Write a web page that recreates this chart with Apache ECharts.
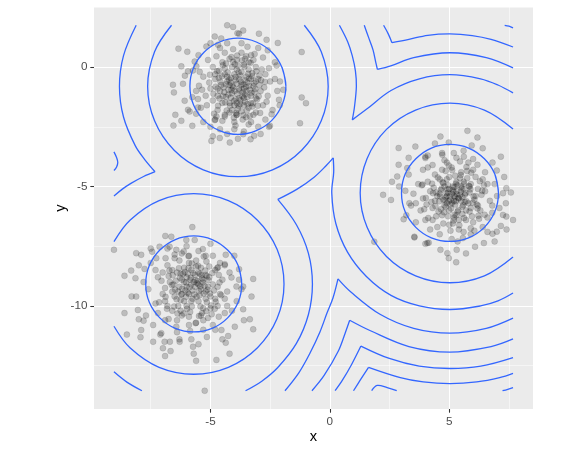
<!DOCTYPE html>
<html>
<head>
<meta charset="utf-8">
<script src="https://cdn.jsdelivr.net/npm/echarts@6/dist/echarts.min.js"></script>
<style>
  html, body { margin: 0; padding: 0; background: #fff; }
  #chart { width: 585px; height: 451px; }
</style>
</head>
<body>
<div id="chart"></div>
<script>
// axis ticks
const xTicks = [-5, 0, 5];
const yTicks = [-10, -5, 0];

// points (x, y)
const clusterA = [
  [-6.34,0.77],[-5.97,0.64],[-6.22,0.03],[-6.07,-0.36],[-6.15,-0.70],[-6.57,-0.74],[-6.53,-1.06],[-6.08,-1.41],[-5.94,-1.79],[-5.87,-1.86],
  [-6.47,-2.00],[-6.22,-2.25],[-6.55,-2.45],[-5.76,-2.46],[-5.94,-0.18],[-5.73,-0.14],[-5.59,0.03],[-5.76,-1.26],[-5.52,-1.34],[-5.52,-1.69],
  [-5.48,-0.78],[-5.66,0.23],[-4.30,1.75],[-4.05,1.68],[-3.63,1.53],[-3.87,1.42],[-4.82,1.28],[-2.97,1.40],[-2.65,1.14],[-2.18,1.01],
  [-1.18,0.63],[-4.68,0.93],[-5.17,0.86],[-2.23,0.07],[-2.09,-0.60],[-1.95,-0.95],[-2.13,-1.37],[-1.18,-1.27],[-1.00,-1.51],[-1.25,-2.35],
  [-2.44,-1.97],[-2.51,-2.46],[-3.17,-2.88],[-3.32,-3.02],[-3.63,-2.81],[-4.19,-3.16],[-4.61,-2.97],[-4.96,-3.09],[-4.75,-2.07],[-4.40,-2.07],
  [-3.91,-2.00],
  [-3.9,-0.7],[-3.6,-0.9],[-4.1,-1.1],[-3.5,-0.4],[-4.3,-0.6],[-3.8,-1.3],[-3.2,-0.8],[-4.6,-1.0],[-3.7,-0.2],[-4.0,-1.6],
  [-3.3,-1.2],[-4.4,-0.3],[-3.0,-0.5],[-4.8,-0.5],[-3.6,0.1],[-4.2,-1.9],[-3.4,-1.7],[-4.9,-1.4],[-2.9,-1.0],[-3.9,0.3],
  [-4.5,0.2],[-3.1,0.0],[-4.7,-1.8],[-3.5,-2.1],[-2.7,-0.3],[-5.0,-0.9],[-4.0,-2.3],[-2.8,-1.6],[-3.3,0.5],[-4.4,0.6],
  [-3.8,-0.5],[-4.05,-0.85],[-3.65,-1.05],[-3.95,-1.35],[-4.25,-0.95],[-3.45,-0.65],[-3.75,-0.35],[-4.15,-0.45],[-3.55,-1.45],[-4.35,-1.25],
  [-3.85,-1.75],[-3.25,-0.25],[-4.55,-0.75],[-3.05,-1.35],[-4.65,-0.15],[-2.95,-0.75],[-5.2,-1.2],[-3.7,0.6],[-4.1,0.0],[-3.4,0.2],
  [-2.6,-1.2],[-5.3,-0.4],[-4.0,-2.6],[-3.2,-2.0],[-4.8,-2.2],[-2.5,-0.6],[-5.1,0.3],[-3.0,0.8],[-4.3,1.0],[-3.6,-2.7],
  [-2.4,-1.8],[-5.4,-1.7],[-4.6,-2.6],[-2.8,0.4],[-3.9,-0.1],[-4.2,-1.5],[-3.3,-1.5],[-4.7,-1.2],[-3.1,-1.9],[-4.4,-2.0],
  [-3.5,-1.0],[-3.8,-0.9],[-4.0,-0.3],[-3.6,-1.6],[-4.5,-1.5],[-3.2,0.3],[-4.9,0.0],[-2.7,-2.2],[-3.0,-2.5],[-5.0,-2.5],
  [-2.3,0.2],[-5.5,0.5],[-3.7,1.0],[-4.6,0.8],[-2.2,-1.0],[-5.6,-1.0],[-3.4,-2.4],[-4.3,-2.8],[-2.9,-2.8],[-5.3,-2.3],
  [-4.15,-0.65],[-3.35,-0.95],[-3.7,-1.85],[-4.4,-0.05],[-2.85,-0.1],[-4.8,-0.3],[-3.9,-2.0],[-3.1,-0.6],[-4.2,0.35],[-3.5,0.45],
  [-3.55,-0.55],[-4.25,-1.15],[-3.95,-0.55],[-3.45,-1.25],[-4.45,-0.85],[-3.75,-1.55],[-3.15,-1.05],[-4.65,-0.45],[-3.85,0.05],[-4.1,-1.8],
  [-3.25,-1.65],[-4.35,0.15],[-2.95,-0.35],[-5.05,-0.65],[-3.55,0.35],[-4.5,-2.25],[-3.65,-2.2],[-5.15,-1.6],[-2.75,-0.85],[-4.05,0.75],
  [-4.75,0.45],[-3.15,0.55],[-4.85,-1.95],[-3.3,-2.3],[-2.55,-0.05],[-5.35,-0.95],[-3.95,-2.45],[-2.65,-1.45],[-3.45,0.85],[-4.55,1.2],
  [-3.7,-0.75],[-4.0,-1.0],[-3.6,-1.3],[-4.3,-0.4],[-3.3,-0.5],[-4.2,-0.75],[-3.9,-1.5],[-3.4,-0.1],[-4.7,-0.9],[-3.1,-1.3],
  [-2.3,-0.5],[-5.45,-0.2],[-3.8,1.4],[-2.6,0.7],[-5.0,1.0],[-4.9,-2.9],[-2.55,-2.5],[-3.85,-3.0],[-5.6,-1.95],[-2.1,-1.6],
  [-3.72,-0.62],[-4.08,-0.78],[-3.88,-1.12],[-3.52,-0.82],[-4.22,-0.52],[-3.66,-1.22],[-4.02,-1.42],[-3.38,-0.48],[-4.42,-1.05],[-3.82,-0.22],
  [-4.18,-1.62],[-3.28,-1.08],[-4.58,-0.62],[-3.58,0.02],[-3.98,0.12],[-4.62,-1.32],[-3.18,-0.68],[-3.48,-1.82],[-4.32,-1.82],[-4.78,-0.82],
  [-3.08,-0.18],[-3.92,-1.92],[-4.48,0.08],[-3.32,0.18],[-2.98,-1.22],[-4.88,-1.12],[-3.62,-2.02],[-4.12,0.42],[-3.22,-1.52],[-4.68,-1.62],
  [-3.78,-0.98],[-3.42,-0.28],[-4.28,-0.22],[-4.38,-1.48],[-3.12,-0.92],[-3.68,0.28],[-4.52,-0.38],[-3.02,-1.62],[-4.02,-2.12],[-3.35,-2.05],
  [-3.95,-0.42],[-3.55,-1.15],[-4.15,-1.28],[-3.75,-1.38],[-4.35,-0.72],[-3.25,-0.38],[-4.05,0.22],[-3.45,-1.55],[-4.72,-0.18],[-2.88,-0.55],
  [-3.62,-0.72],[-4.12,-0.95],[-3.82,-1.62],[-3.38,-0.78],[-4.48,-1.22],[-3.88,0.48],[-2.92,-1.92],[-4.82,-2.22],[-5.02,-0.32],[-2.72,-0.62]
];

const clusterB = [
  [-9.04,-7.65],[-8.11,-7.79],[-7.90,-7.86],[-6.89,-7.07],[-6.64,-7.10],[-5.76,-6.70],[-7.44,-7.73],[-7.13,-7.52],[-6.71,-7.52],[-6.43,-7.65],
  [-6.01,-7.24],[-5.66,-7.24],[-8.32,-8.52],[-8.60,-8.74],[-8.14,-8.84],[-7.76,-8.45],[-8.11,-9.61],[-7.27,-8.00],[-6.88,-8.00],[-8.04,-10.17],
  [-8.00,-10.56],[-7.80,-10.62],[-7.90,-11.01],[-7.93,-11.31],[-6.92,-11.50],[-6.99,-11.77],[-6.67,-11.89],[-6.29,-11.50],[-5.73,-11.71],[-7.06,-11.14],
  [-6.43,-10.87],[-4.36,-7.86],[-4.68,-8.38],[-4.40,-8.25],[-3.80,-8.46],[-4.12,-8.81],[-3.91,-9.19],[-3.63,-9.19],[-3.21,-8.87],[-3.28,-9.61],
  [-5.17,-8.14],[-5.28,-7.93],[-3.63,-10.14],[-3.35,-10.56],[-3.21,-10.98],[-3.98,-10.87],[-4.26,-11.26],[-4.36,-11.54],[-4.75,-12.26],[-5.24,-13.55],
  [-4.54,-11.01],
  [-5.7,-9.0],[-5.4,-9.3],[-6.0,-8.8],[-5.9,-9.5],[-5.2,-8.7],[-6.3,-9.2],[-5.5,-9.8],[-6.1,-8.4],[-4.9,-9.1],[-5.8,-8.5],
  [-6.5,-9.6],[-5.0,-9.6],[-6.4,-8.6],[-5.3,-10.1],[-6.0,-10.0],[-4.8,-8.5],[-6.7,-9.0],[-5.6,-8.1],[-4.6,-9.5],[-6.2,-10.4],
  [-5.1,-10.5],[-6.8,-8.3],[-4.5,-8.9],[-5.9,-7.9],[-7.0,-9.5],[-5.4,-8.4],[-4.7,-10.0],[-6.6,-10.2],[-5.2,-9.4],[-6.0,-9.2],
  [-5.75,-9.35],[-5.55,-8.95],[-5.95,-8.65],[-6.25,-9.75],[-5.15,-9.85],[-5.45,-8.65],[-6.45,-8.95],[-5.85,-10.25],[-5.05,-8.35],[-6.35,-10.0],
  [-7.2,-8.8],[-4.3,-9.4],[-6.9,-10.6],[-4.4,-10.3],[-7.3,-9.9],[-5.6,-10.7],[-6.2,-7.8],[-4.9,-7.9],[-7.5,-8.2],[-4.2,-8.6],
  [-5.3,-11.0],[-6.4,-11.1],[-7.1,-11.2],[-4.8,-11.0],[-7.6,-9.3],[-6.8,-7.6],[-5.0,-7.4],[-3.9,-9.8],[-7.7,-10.4],[-5.8,-11.4],
  [-5.5,-9.1],[-5.8,-9.8],[-6.1,-9.0],[-5.3,-8.9],[-6.6,-9.4],[-4.9,-10.8],[-6.0,-7.5],[-5.4,-10.4],[-6.3,-8.1],[-4.6,-8.2],
  [-5.1,-9.2],[-6.9,-9.8],[-4.4,-9.7],[-5.9,-10.8],[-6.5,-8.0],[-5.2,-7.9],[-7.0,-8.6],[-4.1,-10.2],[-6.7,-11.5],[-5.5,-11.6],
  [-6.2,-9.5],[-5.65,-8.7],[-5.0,-10.1],[-6.8,-10.0],[-4.7,-9.2],[-7.4,-10.8],[-5.7,-12.0],[-3.8,-8.9],[-8.3,-9.6],[-8.6,-10.3],
  [-5.65,-9.2],[-5.35,-8.85],[-6.05,-9.35],[-5.85,-8.9],[-5.45,-9.55],[-6.15,-8.65],[-5.25,-9.15],[-6.35,-9.4],[-5.75,-9.7],[-5.05,-8.8],
  [-6.55,-9.1],[-5.6,-8.35],[-4.85,-9.35],[-6.25,-10.2],[-5.35,-10.3],[-6.75,-8.75],[-4.65,-8.7],[-5.9,-10.45],[-6.9,-9.25],[-4.95,-10.35],
  [-5.5,-7.7],[-6.5,-7.85],[-4.4,-8.3],[-7.3,-8.5],[-4.3,-10.0],[-7.2,-10.3],[-5.15,-11.3],[-6.3,-11.4],[-3.7,-9.3],[-7.8,-9.0],
  [-5.8,-9.1],[-5.5,-8.6],[-6.2,-8.9],[-5.2,-9.7],[-6.1,-9.8],[-5.9,-8.2],[-4.8,-9.7],[-6.6,-8.5],[-5.3,-10.6],[-6.4,-10.6],
  [-4.5,-11.4],[-7.4,-11.5],[-4.0,-7.9],[-7.5,-7.6],[-3.6,-10.6],[-8.0,-8.3],[-5.6,-12.3],[-6.9,-12.1],[-4.2,-12.0],[-8.5,-11.2],
  [-5.62,-8.92],[-5.88,-9.22],[-5.48,-9.38],[-6.02,-9.02],[-5.32,-9.02],[-6.18,-9.28],[-5.72,-8.62],[-5.58,-9.62],[-6.08,-8.58],[-5.22,-8.52],
  [-6.42,-9.72],[-5.02,-9.48],[-6.32,-8.42],[-5.42,-10.02],[-5.98,-10.12],[-4.92,-8.62],[-6.62,-9.12],[-5.78,-8.22],[-4.78,-9.82],[-6.12,-10.32],
  [-5.18,-10.22],[-6.72,-8.52],[-4.62,-9.02],[-5.92,-7.92],[-6.88,-9.62],[-5.52,-8.32],[-4.82,-10.12],[-6.52,-10.02],[-5.28,-9.48],[-6.22,-9.52],
  [-5.68,-9.52],[-5.82,-8.82],[-5.38,-8.72],[-6.28,-8.82],[-5.12,-9.32],[-6.48,-9.32],[-5.78,-10.02],[-5.08,-8.92],[-6.58,-8.72],[-5.48,-10.42],
  [-6.02,-9.62],[-5.42,-9.18],[-5.92,-8.42],[-6.38,-10.32],[-4.98,-9.98],[-5.62,-10.72],[-6.82,-10.12],[-4.72,-8.42],[-6.12,-7.72],[-5.32,-7.62],
  [-5.55,-9.05],[-5.95,-9.45],[-6.25,-8.65],[-5.15,-8.75],[-4.55,-9.55],[-7.05,-8.95],[-6.75,-10.55],[-4.65,-10.45],[-7.15,-9.85],[-5.85,-11.05]
];

const clusterC = [
  [2.88,-4.09],[2.82,-4.58],[2.23,-5.35],[2.56,-5.56],[1.86,-7.31],[2.88,-3.39],[3.58,-3.33],[4.00,-3.81],[3.24,-4.23],[3.16,-5.18],
  [3.09,-6.37],[3.54,-7.10],[4.08,-7.37],[4.63,-2.91],[4.98,-3.16],[5.76,-2.67],[6.18,-2.95],[5.94,-3.28],[7.16,-3.75],[6.81,-4.00],
  [6.99,-4.33],[7.39,-5.07],[7.58,-5.25],[7.25,-5.28],[7.37,-5.70],[7.25,-6.19],[7.39,-6.26],[7.67,-6.40],[7.16,-6.65],[6.99,-6.89],
  [6.81,-6.98],[6.45,-7.37],[6.08,-7.52],[5.57,-7.16],[5.31,-7.65],[4.92,-7.79],[4.98,-8.00],[5.29,-8.17],[4.63,-7.65],[4.14,-7.35],
  [3.54,-7.13],[3.33,-5.70],[4.00,-3.75],[4.71,-3.67],[5.19,-3.60],[5.61,-3.75],[6.18,-4.09],
  [5.1,-5.3],[5.4,-5.5],[4.8,-5.0],[5.6,-5.1],[4.9,-5.7],[5.3,-4.8],[4.5,-5.4],[5.8,-5.7],[5.0,-6.0],[4.6,-4.7],
  [5.9,-4.9],[5.2,-6.3],[4.2,-5.2],[6.1,-5.4],[4.7,-6.2],[5.5,-4.4],[4.3,-5.9],[6.3,-6.0],[5.7,-6.4],[4.4,-4.5],
  [6.0,-4.3],[3.9,-5.5],[6.5,-5.2],[5.1,-4.2],[4.0,-6.4],[6.4,-4.7],[5.4,-6.8],[3.7,-4.9],[6.6,-6.3],[4.9,-4.0],
  [5.25,-5.45],[4.95,-5.25],[5.55,-5.85],[5.15,-5.0],[4.75,-5.55],[5.65,-5.35],[5.35,-6.05],[4.65,-5.15],[5.85,-5.0],[5.05,-5.75],
  [6.2,-5.8],[4.1,-4.8],[5.0,-6.6],[6.7,-5.6],[3.8,-6.0],[5.8,-4.0],[4.5,-6.7],[6.9,-4.9],[3.5,-5.3],[5.6,-6.9],
  [4.3,-4.1],[6.4,-6.7],[3.6,-6.5],[6.8,-6.1],[4.8,-3.9],[5.9,-7.0],[3.3,-4.5],[7.0,-5.4],[4.6,-7.0],[5.3,-3.8],
  [5.2,-5.6],[4.9,-5.4],[5.5,-5.0],[5.0,-4.6],[5.7,-6.0],[4.4,-5.6],[6.0,-6.5],[4.7,-4.3],[6.2,-5.1],[5.4,-6.4],
  [3.9,-4.3],[6.5,-4.4],[4.2,-6.8],[6.6,-6.9],[3.4,-5.8],[5.6,-3.5],[4.1,-3.7],[7.1,-5.9],[5.1,-7.2],[2.9,-5.0],
  [5.3,-5.2],[4.85,-5.85],[5.75,-4.65],[4.55,-6.05],[6.05,-5.55],[5.45,-4.65],[4.35,-5.05],[5.95,-6.25],[5.15,-6.55],[4.05,-5.75],
  [5.15,-5.15],[5.45,-5.35],[4.85,-5.45],[5.35,-4.95],[5.05,-5.55],[5.65,-5.65],[4.75,-4.85],[5.55,-6.15],[4.95,-6.25],[5.85,-5.25],
  [5.25,-4.55],[4.45,-5.25],[6.15,-5.75],[4.65,-5.95],[5.75,-4.35],[4.25,-5.65],[6.35,-5.35],[5.05,-6.85],[4.85,-4.35],[6.25,-6.35],
  [3.85,-4.95],[6.6,-4.9],[4.3,-6.4],[5.9,-6.75],[4.1,-4.2],[6.0,-3.85],[3.6,-5.7],[6.8,-5.8],[5.35,-7.3],[4.7,-3.6],
  [5.2,-5.4],[5.0,-5.1],[5.5,-5.6],[4.8,-5.8],[5.6,-4.8],[4.6,-5.3],[5.9,-5.9],[5.3,-6.2],[4.9,-4.7],[6.1,-4.6],
  [3.2,-6.2],[7.3,-4.6],[4.0,-7.4],[6.9,-7.3],[3.3,-3.8],[6.4,-3.4],[2.6,-4.8],[7.4,-6.8],[5.7,-7.8],[4.4,-3.2],
  [5.18,-5.22],[5.38,-5.48],[4.92,-5.12],[5.52,-5.08],[4.98,-5.62],[5.28,-4.88],[4.62,-5.42],[5.72,-5.62],[5.08,-5.92],[4.72,-4.82],
  [5.82,-4.98],[5.22,-6.18],[4.32,-5.28],[6.02,-5.42],[4.78,-6.08],[5.48,-4.52],[4.42,-5.82],[6.18,-5.92],[5.62,-6.32],[4.52,-4.62],
  [5.92,-4.42],[4.02,-5.48],[6.38,-5.18],[5.12,-4.32],[4.12,-6.32],[6.28,-4.78],[5.42,-6.62],[3.88,-4.92],[6.48,-6.18],[4.98,-4.12],
  [5.32,-5.32],[5.02,-5.42],[5.58,-5.78],[5.22,-5.02],[4.82,-5.58],[5.68,-5.28],[5.38,-5.98],[4.68,-5.08],[5.88,-5.12],[5.12,-5.68],
  [5.48,-5.22],[4.88,-5.28],[5.28,-5.62],[5.62,-4.88],[4.58,-5.62],[5.98,-5.68],[5.18,-6.42],[4.28,-4.88],[6.22,-6.22],[5.72,-4.18],
  [5.25,-5.75],[5.55,-5.45],[4.95,-4.95],[5.85,-6.05],[4.45,-6.25],[6.45,-4.95],[4.75,-6.55],[6.05,-6.85],[3.95,-5.95],[5.45,-3.95]
];

// density contour paths; each piece runs between cusps
const ringA1 = [[-1.84,-0.80],[-2.00,-0.03],[-2.43,0.62],[-3.08,1.05],[-3.85,1.21],[-4.62,1.05],[-5.27,0.62],[-5.71,-0.03],[-5.86,-0.80],
  [-5.71,-1.58],[-5.27,-2.23],[-4.62,-2.66],[-3.85,-2.82],[-3.08,-2.66],[-2.43,-2.23],[-2.00,-1.58],[-1.84,-0.80],[-2.00,-0.03]];
const ringB1 = [[-3.69,-9.08],[-3.84,-8.31],[-4.28,-7.66],[-4.93,-7.22],[-5.70,-7.07],[-6.47,-7.22],[-7.12,-7.66],[-7.56,-8.31],[-7.71,-9.08],
  [-7.56,-9.85],[-7.12,-10.50],[-6.47,-10.94],[-5.70,-11.09],[-4.93,-10.94],[-4.28,-10.50],[-3.84,-9.85],[-3.69,-9.08],[-3.84,-8.31]];
const ringC1 = [[7.06,-5.27],[6.91,-4.49],[6.47,-3.84],[5.81,-3.39],[5.03,-3.24],[4.25,-3.39],[3.60,-3.84],[3.15,-4.49],[3.00,-5.27],
  [3.15,-6.05],[3.60,-6.71],[4.25,-7.15],[5.03,-7.30],[5.81,-7.15],[6.47,-6.71],[6.91,-6.05],[7.06,-5.27],[6.91,-4.49]];

const ringA2 = [[-6.63,1.75],[-7.34,0.64],[-7.63,-0.81],[-7.34,-2.25],[-6.52,-3.48],[-5.30,-4.30],[-3.85,-4.59],[-2.40,-4.30],
  [-1.18,-3.48],[-0.36,-2.25],[-0.07,-0.81],[-0.36,0.64],[-1.07,1.75]];
const ringB2 = [[-9.04,-7.31],[-8.37,-6.41],[-7.15,-5.59],[-5.70,-5.30],[-4.25,-5.59],[-3.03,-6.41],[-2.21,-7.63],[-1.92,-9.08],
  [-2.21,-10.53],[-3.03,-11.75],[-4.25,-12.57],[-5.70,-12.86],[-7.15,-12.57],[-8.37,-11.75],[-9.04,-10.85]];
const ringC2 = [[7.67,-2.59],[6.47,-1.80],[5.03,-1.51],[3.59,-1.80],[2.37,-2.61],[1.56,-3.83],[1.27,-5.27],[1.56,-6.71],
  [2.37,-7.93],[3.59,-8.74],[5.03,-9.03],[6.47,-8.74],[7.67,-7.95]];

const level3 = [
  [[-8.11,1.75],[-8.64,0.48],[-8.81,-0.81],[-8.64,-2.09],[-8.15,-3.29],[-7.76,-3.86],[-7.32,-4.38]],
  [[-7.32,-4.38],[-7.80,-4.58],[-8.33,-4.87],[-8.69,-5.11],[-9.04,-5.40]],
  [[-9.04,-12.76],[-8.50,-13.19],[-7.87,-13.55]],
  [[0.40,1.75],[0.75,1.05],[0.94,0.47],[1.07,-0.16],[1.11,-0.81],[1.03,-1.67],[0.94,-2.21]],
  [[0.94,-2.21],[1.53,-1.77],[2.56,-0.98],[3.75,-0.49],[5.03,-0.32],[6.31,-0.49],[7.04,-0.75],[7.67,-1.08]],
  [[-3.53,-13.55],[-2.85,-13.15],[-2.19,-12.59],[-1.40,-11.57],[-0.90,-10.37],[-0.73,-9.08],[-0.90,-7.79],[-1.40,-6.60],[-2.18,-5.54]],
  [[-2.18,-5.54],[-1.37,-5.11],[-0.66,-4.61],[-0.16,-4.13],[0.14,-3.80]],
  [[0.14,-3.80],[0.16,-4.41],[0.08,-5.27],[0.25,-6.55],[0.74,-7.75],[1.53,-8.77],[2.56,-9.56],[3.75,-10.00],[5.03,-10.15],
   [6.31,-10.00],[7.04,-9.79],[7.67,-9.46]]
];
const level4 = [
  [[1.44,1.75],[1.64,1.19],[1.81,0.71],[1.92,0.21],[1.99,-0.10]],
  [[1.99,-0.10],[2.55,0.05],[3.51,0.40],[5.03,0.60],[6.55,0.40],[7.67,-0.03]],
  [[-9.04,-3.55],[-8.93,-3.79],[-8.88,-4.00],[-8.93,-4.18],[-9.04,-4.33]],
  [[-1.88,-13.55],[-1.30,-12.80],[-0.83,-11.97],[-0.42,-11.10],[-0.12,-10.30],[0.13,-9.67],[0.34,-8.87]],
  [[0.34,-8.87],[0.88,-9.42],[2.10,-10.35],[3.51,-10.94],[5.03,-11.14],[6.55,-10.94],[7.67,-10.51]]
];
const level5 = [
  [[2.25,1.75],[2.45,1.38],[2.60,1.02]],
  [[2.60,1.02],[3.31,1.16],[4.10,1.33],[5.03,1.39],[5.96,1.32],[6.75,1.16],[7.67,0.84]],
  [[-0.75,-13.55],[-0.24,-12.91],[0.35,-11.90],[0.64,-11.14],[0.83,-10.60]],
  [[0.83,-10.60],[1.70,-11.04],[3.31,-11.70],[5.03,-11.93],[6.75,-11.70],[7.67,-11.38]]
];
const level6 = [
  [[7.32,1.75],[7.50,1.71],[7.67,1.64]],
  [[0.22,-13.55],[0.52,-13.12],[0.91,-12.45],[1.30,-11.68]],
  [[1.30,-11.68],[2.49,-12.20],[3.74,-12.52],[5.03,-12.62],[6.32,-12.52],[7.67,-12.16]]
];
const level7 = [
  [[0.99,-13.55],[1.27,-13.11],[1.62,-12.57]],
  [[1.62,-12.57],[2.95,-13.00],[3.91,-13.18],[5.03,-13.25],[6.15,-13.18],[7.11,-13.00],[7.67,-12.82]]
];
const level8 = [
  [[1.75,-13.55],[1.98,-13.33],[2.40,-13.42],[2.80,-13.55]],
  [[7.23,-13.55],[7.45,-13.49],[7.67,-13.42]]
];

const contourPaths = [ringA1, ringB1, ringC1, ringA2, ringB2, ringC2]
  .concat(level3, level4, level5, level6, level7, level8);

const font = "'Liberation Sans', Arial, Helvetica, sans-serif";

function axisBase(ticks) {
  return {
    type: 'value',
    splitNumber: 4,
    axisLine: { show: false, onZero: false },
    axisTick: { show: true, length: 3.7, customValues: ticks, lineStyle: { color: '#333333', width: 1.07 } },
    axisLabel: { color: '#4D4D4D', fontSize: 11.7, fontFamily: font, customValues: ticks },
    splitLine: { show: true, lineStyle: { color: '#FFFFFF', width: 1.07 } },
    minorTick: { show: false, splitNumber: 2 },
    minorSplitLine: { show: true, lineStyle: { color: '#FFFFFF', width: 0.53 } },
    nameLocation: 'middle',
    nameMoveOverlap: false,
    nameTextStyle: { color: '#000000', fontSize: 14.7, fontFamily: font }
  };
}

const xAxis = Object.assign(axisBase(xTicks), { min: -9.876, max: 8.506, name: 'x', nameGap: 20 });
xAxis.axisLabel.margin = 6.5;
const yAxis = Object.assign(axisBase(yTicks), { min: -14.315, max: 2.515, name: 'y', nameGap: 26 });
yAxis.axisLabel.margin = 6.5;

const pointStyle = { color: 'rgba(0,0,0,0.25)', borderColor: 'rgba(0,0,0,0.25)', borderWidth: 0.5 };

const series = [clusterA, clusterB, clusterC].map(d => ({
  type: 'scatter',
  data: d,
  symbolSize: 6,
  itemStyle: pointStyle,
  silent: true,
  z: 2
}));

// contours: one custom item per path, smoothed polyline through the axis scales
series.push({
  type: 'custom',
  data: contourPaths.map(p => p[0]),
  silent: true,
  z: 3,
  renderItem: function (params, api) {
    const pts = contourPaths[params.dataIndex].map(pt => api.coord(pt));
    return {
      type: 'polyline',
      shape: { points: pts, smooth: 0.35 },
      style: { stroke: '#3366FF', lineWidth: 1.3, fill: null }
    };
  }
});

const chart = echarts.init(document.getElementById('chart'), null, { renderer: 'canvas' });
chart.setOption({
  animation: false,
  backgroundColor: '#FFFFFF',
  grid: { left: 94, right: 52, top: 7, bottom: 42, show: true, backgroundColor: '#EBEBEB', borderWidth: 0 },
  xAxis: xAxis,
  yAxis: yAxis,
  series: series
});
</script>
</body>
</html>
